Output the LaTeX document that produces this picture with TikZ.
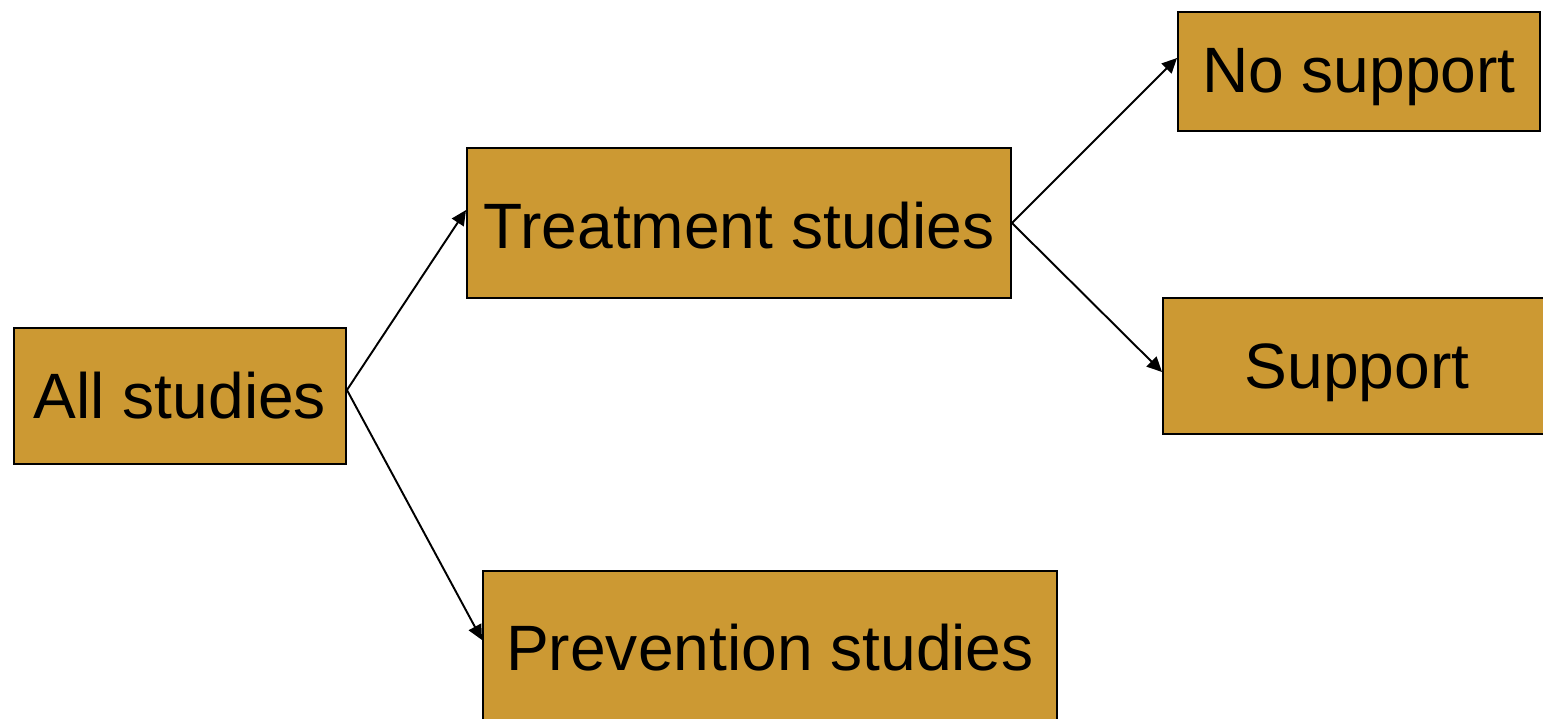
\documentclass[tikz,border=0pt]{standalone}
\usepackage{fontspec}
\setmainfont{Liberation Sans}
\usepackage{tikz}
\usetikzlibrary{arrows.meta}
\definecolor{boxgold}{RGB}{204,153,51}
\newcommand{\lowered}[2]{\raisebox{-#1}[\height][\depth]{#2}}

\begin{document}
\begin{tikzpicture}[x=.02cm, y=-.02cm,
		studybox/.style={draw=black, line width=1.1pt, fill=boxgold, inner sep=0pt,
			font=\fontsize{36.5}{44}\selectfont},
		branch/.style={line width=1.1pt, -{Triangle[length=.3cm, width=.28cm]}}]
				\useasboundingbox (0,0) rectangle (1543,718);
				\clip (0,0) rectangle (1543,718);
				\node[studybox, minimum width=332*.02cm, minimum height=136*.02cm] (all) at (180,396) {All studies};
				\node[studybox, minimum width=544*.02cm, minimum height=150*.02cm] (treat) at (739,223) {\lowered{.06cm}{Treatment studies}};
				\node[studybox, minimum width=574*.02cm, minimum height=154*.02cm] (prev) at (770,648) {Prevention studies};
				\node[studybox, minimum width=362*.02cm, minimum height=119*.02cm] (nosup) at (1359,71.5) {\lowered{.12cm}{No support}};
				\node[studybox, minimum width=388*.02cm, minimum height=136*.02cm] (sup) at (1357,366) {\lowered{.14cm}{Support}};
				\draw[branch] ([yshift=.12cm]all.east) -- ([yshift=.26cm]treat.west);
				\draw[branch] ([yshift=.12cm]all.east) -- ([yshift=.16cm]prev.west);
				\draw[branch] (treat.east) -- ([yshift=.27cm]nosup.west);
				\draw[branch] (treat.east) -- ([yshift=-.12cm]sup.west);
			\end{tikzpicture}
\end{document}
